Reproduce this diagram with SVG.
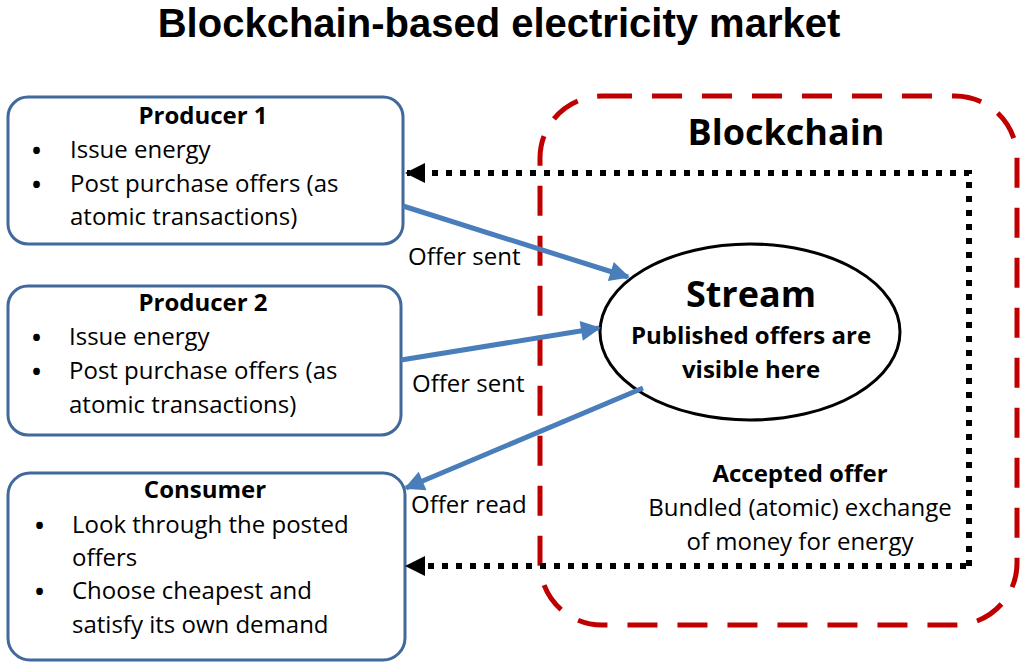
<svg xmlns="http://www.w3.org/2000/svg" width="1024" height="669" viewBox="0 0 1024 669">
<defs>
<style>
text{font-family:"Open Sans","Noto Sans","Liberation Sans",sans-serif;fill:#000}
.t{font-size:24px}
.u{font-size:24px;font-weight:bold}
.b{font-weight:bold}
.c{text-anchor:middle}
.box{fill:#fff;stroke:#41699b;stroke-width:3}
.blue{stroke:#4a7ebb;stroke-width:5;fill:none}
.dot{stroke:#000;stroke-width:6;fill:none;stroke-dasharray:6 8}
</style>
<marker id="ab" viewBox="0 0 10 10" refX="9" refY="5" markerUnits="userSpaceOnUse" markerWidth="24" markerHeight="20" orient="auto"><path d="M0,0 L10,5 L0,10 Z" fill="#4a7ebb"/></marker>
<marker id="ak" viewBox="0 0 10 10" refX="9" refY="5" markerUnits="userSpaceOnUse" markerWidth="20" markerHeight="20" orient="auto"><path d="M0,0 L10,5 L0,10 Z" fill="#000"/></marker>
</defs>
<rect width="1024" height="669" fill="#fff"/>
<text x="499" y="37" class="b c" font-size="40" style="font-family:'Liberation Sans',Arial,sans-serif">Blockchain-based electricity market</text>
<g id="blockchain">
<rect x="540" y="96" width="477" height="529" rx="62" fill="none" stroke="#c00000" stroke-width="5" stroke-dasharray="30 20"/>
<text x="786" y="145" class="b c" font-size="36">Blockchain</text>
</g>
<g id="producer1">
<rect x="8" y="97" width="395" height="147" rx="20" class="box"/>
<text x="203" y="124" class="t b c">Producer 1</text>
<text x="32" y="159" class="u">•</text><text x="70" y="158" class="t">Issue energy</text>
<text x="32" y="193" class="u">•</text><text x="70" y="192" class="t">Post purchase offers (as</text>
<text x="70" y="225" class="t">atomic transactions)</text>
</g>
<g id="producer2">
<rect x="8" y="286" width="393" height="149" rx="20" class="box"/>
<text x="203" y="311" class="t b c">Producer 2</text>
<text x="32" y="346" class="u">•</text><text x="69" y="345" class="t">Issue energy</text>
<text x="32" y="380" class="u">•</text><text x="69" y="379" class="t">Post purchase offers (as</text>
<text x="69" y="413" class="t">atomic transactions)</text>
</g>
<g id="consumer">
<rect x="8" y="473" width="397" height="187" rx="22" class="box"/>
<text x="205" y="498" class="t b c">Consumer</text>
<text x="35" y="534" class="u">•</text><text x="72" y="533" class="t">Look through the posted</text>
<text x="72" y="566" class="t">offers</text>
<text x="35" y="600" class="u">•</text><text x="72" y="599" class="t">Choose cheapest and</text>
<text x="72" y="633" class="t">satisfy its own demand</text>
</g>
<g id="stream">
<ellipse cx="750" cy="332" rx="150" ry="88" fill="#fff" stroke="#000" stroke-width="3"/>
<text x="751" y="307" class="b c" font-size="36">Stream</text>
<text x="751" y="344" class="t b c">Published offers are</text>
<text x="751" y="378" class="t b c">visible here</text>
</g>
<g id="accepted">
<text x="800" y="482" class="t b c">Accepted offer</text>
<text x="800" y="516" class="t c">Bundled (atomic) exchange</text>
<text x="800" y="550" class="t c">of money for energy</text>
</g>
<g id="connectors">
<path d="M969,566 L969,173 L407,173" class="dot" marker-end="url(#ak)"/>
<path d="M966,566 L407,566" class="dot" marker-end="url(#ak)"/>
<line x1="403" y1="206" x2="628" y2="277" class="blue" marker-end="url(#ab)"/>
<line x1="401" y1="360" x2="599" y2="328" class="blue" marker-end="url(#ab)"/>
<line x1="643" y1="388" x2="406" y2="488" class="blue" marker-end="url(#ab)"/>
<text x="408" y="265" class="t">Offer sent</text>
<text x="412" y="392" class="t">Offer sent</text>
<text x="411" y="513" class="t">Offer read</text>
</g>
</svg>
